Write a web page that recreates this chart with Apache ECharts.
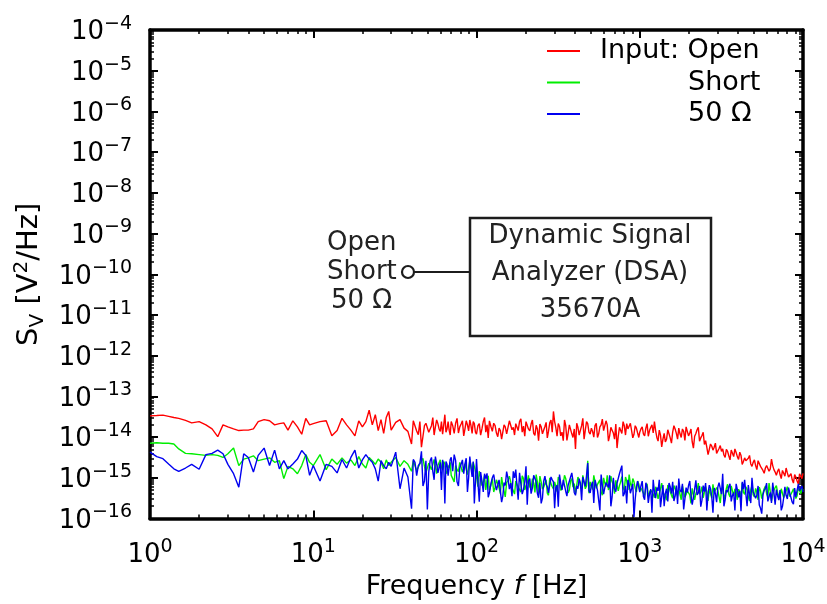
<!DOCTYPE html>
<html><head><meta charset="utf-8">
<script src="https://cdn.jsdelivr.net/npm/echarts@6/dist/echarts.min.js"></script>
<style>html,body{margin:0;padding:0;background:#fff}#c{width:827px;height:604px}</style>
</head><body><div id="c"></div>
<script>
// ---------------- DATA ----------------
const freqHz = [
  1,1.1,1.2,1.3,1.4,1.5,1.65,1.8,2,2.2,2.4,2.6,2.8,3,3.25,3.5,3.75,4,4.3,4.6,5,5.4,5.8,6.2,6.6,7,7.5,8,8.5,9,9.5,
  10,11,12,13,14,15,16,17,18,19,20,21,22,23,24,25,26,27,28,29,30,32,34,36,38,40,42,44,46,48,50,52,54,56,58,60,62,64,66,68,70,73,76,79,82,85,88,91,94,97,
  100,104,108,112,116,120,125,130,135,140,145,150,156,162,168,174,180,187,194,201,208,216,224,232,240,249,258,267,276,286,296,306,317,328,340,352,364,377,390,404,418,433,448,464,480,497,514,532,551,570,590,611,632,654,677,701,726,751,777,804,832,861,891,922,954,987,
  1000,1035,1071,1109,1148,1188,1230,1273,1317,1363,1411,1460,1511,1564,1619,1676,1734,1795,1858,1923,1990,2060,2132,2207,2284,2364,2447,2532,2621,2713,2808,2906,3008,3113,3222,3335,3451,3572,3697,3827,3961,4099,4243,4391,4545,4704,4869,5039,5216,5398,5587,5783,5985,6195,6411,6636,6868,7109,7357,7615,7881,8157,8443,8738,9044,9361,9689,10000
];
// log10 of S_V [V^2/Hz]
const openLog10 = [
  -13.48,-13.47,-13.46,-13.49,-13.52,-13.54,-13.59,-13.65,-13.62,-13.70,-13.80,-13.99,-13.70,-13.75,-13.80,-13.84,-13.83,-13.83,-13.80,-13.62,-13.57,-13.60,-13.70,-13.67,-13.65,-13.83,-13.60,-13.75,-13.93,-13.54,-13.70,
  -13.67,-13.62,-13.60,-13.97,-13.84,-13.54,-13.70,-13.83,-13.97,-13.60,-13.75,-13.62,-13.34,-13.70,-13.45,-13.84,-13.57,-13.91,-13.52,-13.37,-13.83,-13.64,-13.57,-13.78,-13.86,-14.17,-13.64,-13.94,-14.25,-13.72,-13.70,-13.91,-13.52,-13.75,-13.67,-13.86,-13.93,-13.45,-13.80,-13.83,-13.62,-13.91,-13.54,-13.75,-13.60,-13.80,-13.70,-13.58,-13.91,-13.67,
  -13.93,-13.67,-13.80,-13.52,-13.70,-13.60,-13.86,-13.72,-13.99,-13.84,-14.02,-13.75,-13.88,-13.58,-13.76,-13.67,-13.84,-13.55,-13.73,-13.62,-13.80,-13.68,-13.91,-13.71,-14.09,-13.75,-13.93,-13.64,-13.86,-13.58,-13.37,-13.76,-13.67,-13.97,-14.09,-13.72,-13.91,-13.68,-14.01,-14.29,-13.76,-13.91,-13.54,-13.83,-13.67,-13.93,-13.86,-13.72,-14.01,-13.75,-13.56,-13.84,-13.70,-13.97,-13.83,-14.05,-14.27,-13.76,-13.91,-13.72,-13.67,-13.84,-13.70,-13.93,-13.78,-14.01,
  -13.88,-13.75,-13.97,-13.67,-13.84,-13.70,-13.62,-14.01,-13.83,-14.24,-13.91,-14.05,-13.86,-14.15,-13.72,-13.91,-13.78,-14.01,-13.86,-13.75,-13.97,-13.80,-14.27,-13.91,-13.76,-14.02,-13.88,-14.09,-14.43,-14.17,-14.32,-14.15,-14.37,-14.21,-14.29,-14.50,-14.35,-14.56,-14.40,-14.29,-14.48,-14.37,-14.67,-14.51,-14.62,-14.45,-14.72,-14.56,-14.80,-14.62,-14.74,-14.89,-14.70,-14.84,-14.54,-14.80,-14.94,-14.78,-15.02,-14.89,-14.76,-14.98,-14.90,-15.13,-14.98,-15.15,-14.94,-14.89
];
const shortLog10 = [
  -14.15,-14.14,-14.15,-14.15,-14.17,-14.29,-14.40,-14.41,-14.43,-14.45,-14.43,-14.45,-14.50,-14.41,-14.27,-14.70,-14.54,-14.51,-14.46,-14.58,-14.54,-14.51,-14.62,-14.58,-15.02,-14.72,-14.78,-14.90,-14.70,-14.43,-14.62,
  -14.70,-14.43,-14.80,-14.54,-14.67,-14.51,-14.64,-14.56,-14.70,-14.48,-14.66,-14.76,-14.50,-14.58,-14.67,-14.54,-14.62,-14.78,-14.56,-14.70,-14.62,-14.50,-14.72,-14.58,-14.67,-14.84,-14.62,-14.78,-14.58,-14.72,-14.86,-14.66,-14.76,-14.58,-14.70,-14.56,-14.80,-14.66,-14.90,-14.76,-14.94,-15.10,-14.80,-14.62,-14.86,-14.66,-14.92,-14.58,-14.88,-14.72,
  -14.98,-14.84,-15.19,-14.94,-15.08,-15.31,-15.02,-15.23,-15.08,-15.39,-15.19,-15.47,-15.06,-14.97,-15.27,-15.08,-15.23,-15.35,-15.02,-15.19,-14.94,-15.27,-15.13,-14.92,-15.39,-15.10,-15.23,-15.05,-15.43,-15.15,-15.27,-15.08,-14.98,-15.31,-15.15,-15.02,-15.37,-15.08,-15.23,-15.39,-14.98,-15.19,-14.94,-15.27,-14.58,-15.10,-15.29,-14.94,-15.16,-15.05,-15.43,-15.13,-14.94,-15.24,-15.10,-15.39,-15.02,-15.19,-14.97,-15.31,-15.08,-14.92,-15.23,-15.10,-15.35,-15.15,
  -15.31,-15.21,-15.43,-15.15,-15.37,-15.27,-15.49,-15.19,-15.39,-15.13,-15.35,-15.55,-15.24,-15.43,-15.19,-15.37,-15.27,-15.54,-15.16,-15.41,-15.31,-15.63,-15.23,-15.39,-15.13,-15.35,-15.49,-15.21,-15.57,-15.27,-15.16,-15.39,-15.31,-15.62,-15.23,-15.43,-15.16,-15.47,-15.32,-15.27,-15.54,-15.35,-15.13,-15.41,-15.29,-15.57,-15.19,-15.47,-15.35,-15.23,-15.51,-15.27,-15.39,-15.13,-15.57,-15.31,-15.19,-15.45,-15.27,-15.49,-15.32,-15.21,-15.43,-15.27,-15.51,-15.23,-15.39,-15.31
];
const ohm50Log10 = [
  -14.37,-14.48,-14.53,-14.66,-14.78,-14.84,-14.76,-14.67,-14.79,-14.43,-14.40,-14.32,-14.41,-14.67,-14.90,-15.23,-14.41,-14.50,-14.86,-14.45,-14.27,-14.70,-14.32,-14.78,-14.58,-14.78,-14.66,-14.54,-14.33,-14.45,-14.94,
  -14.70,-15.08,-14.67,-14.72,-14.88,-14.55,-14.76,-14.50,-14.32,-14.76,-14.56,-14.43,-14.54,-14.62,-14.78,-15.08,-14.58,-14.70,-14.78,-14.62,-14.72,-14.37,-15.27,-14.76,-14.98,-15.76,-14.62,-14.70,-14.35,-15.08,-15.78,-14.58,-14.84,-14.48,-14.88,-14.62,-14.56,-15.63,-14.67,-14.94,-14.50,-14.43,-15.10,-14.76,-14.56,-14.66,-15.35,-14.48,-14.98,-15.63,
  -14.54,-15.59,-15.08,-14.90,-14.89,-15.37,-15.00,-15.15,-15.27,-15.08,-15.45,-15.19,-15.02,-15.13,-14.84,-14.80,-15.54,-15.15,-15.29,-14.72,-15.08,-15.39,-14.94,-15.10,-15.49,-15.63,-15.08,-15.16,-15.37,-14.98,-15.10,-15.24,-15.71,-15.13,-15.05,-15.33,-15.19,-14.98,-15.08,-15.43,-15.27,-15.13,-14.98,-15.21,-14.64,-15.37,-15.10,-15.05,-15.31,-15.80,-15.19,-15.24,-15.08,-14.94,-15.47,-15.27,-15.13,-14.90,-14.70,-15.39,-15.63,-15.16,-15.27,-15.96,-15.23,-15.05,
  -15.35,-15.08,-15.54,-15.23,-15.39,-15.86,-15.35,-15.24,-15.05,-15.47,-15.70,-15.27,-15.13,-15.39,-15.57,-15.19,-15.02,-15.35,-15.78,-15.24,-15.19,-15.43,-15.49,-15.06,-15.37,-15.71,-15.19,-15.13,-15.39,-15.27,-15.86,-15.39,-15.23,-15.08,-14.90,-15.54,-15.35,-15.15,-15.43,-15.80,-15.29,-15.32,-15.10,-15.05,-15.70,-15.41,-15.00,-15.31,-15.43,-15.67,-15.88,-15.31,-15.13,-15.47,-15.62,-15.37,-15.29,-15.55,-15.80,-15.49,-15.43,-15.24,-15.37,-15.65,-15.47,-15.15,-15.29,-15.35
];
// extra samples in the dense (noisy) part of the spectrum, 40 Hz - 10 kHz
const freqMidHz = [
  41,43,45,47,49,51,53,55,57,59,61,63,65,67,69,71.5,74.5,77.5,80.5,83.5,86.5,89.5,92.5,95.5,98.5,
  102,106,110,114,118,122.5,127.5,132.5,137.5,142.5,147.5,153,159,165,171,177,183.5,190.5,197.5,204.5,212,220,228,236,244.5,253.5,262.5,271.5,281,291,301,311.5,322.5,334,346,358,370.5,383.5,397,411,425.5,440.5,456,472,488.5,505.5,523,541.5,560.5,580,600.5,621.5,643,665.5,689,713.5,738.5,764,790.5,818,846.5,876,906.5,938,970.5,
  1017,1053,1090,1128,1168,1209,1251,1295,1340,1387,1435,1485,1537,1591,1647,1705,1764,1826,1890,1956,2025,2096,2169,2245,2324,2405,2489,2576,2667,2760,2857,2957,3060,3167,3278,3393,3511,3634,3762,3894,4030,4171,4317,4468,4624,4786,4954,5127,5307,5492,5685,5884,6090,6303,6523,6752,6988,7233,7486,7748,8019,8300,8590,8891,9202,9525,9844
];
const openMidLog10 = [
  -13.60,-13.85,-13.62,-13.98,-13.66,-13.88,-13.72,-13.95,-13.58,-13.80,-13.62,-13.70,-13.88,-13.62,-13.95,-13.72,-13.66,-13.90,-13.68,-13.97,-13.60,-13.85,-13.72,-13.62,-13.88,
  -13.72,-13.95,-13.62,-13.88,-14.02,-13.74,-13.66,-13.90,-13.78,-14.05,-13.70,-13.92,-13.60,-13.82,-13.95,-13.70,-13.62,-13.88,-13.98,-13.66,-13.85,-13.58,-13.96,-13.80,-13.68,-13.92,-13.74,-14.02,-13.65,-13.88,-13.62,-13.98,-13.74,-13.88,-13.58,-14.08,-13.70,-13.92,-13.80,-13.66,-13.95,-13.72,-14.05,-13.62,-13.88,-13.78,-14.00,-13.66,-13.92,-13.70,-13.84,-13.60,-14.10,-13.76,-13.90,-13.68,-13.98,-13.74,-13.62,-13.95,-13.80,-13.66,-14.02,-13.72,-13.90,
  -13.80,-13.92,-13.78,-13.98,-13.76,-13.90,-13.84,-14.10,-13.95,-14.05,-14.12,-13.82,-14.02,-13.88,-13.80,-14.05,-13.92,-13.80,-14.08,-13.86,-13.90,-14.12,-13.98,-13.82,-14.10,-13.96,-14.18,-14.25,-14.30,-14.22,-14.25,-14.40,-14.28,-14.35,-14.44,-14.30,-14.46,-14.32,-14.48,-14.38,-14.55,-14.45,-14.60,-14.58,-14.52,-14.66,-14.62,-14.70,-14.58,-14.72,-14.82,-14.76,-14.68,-14.78,-14.70,-14.86,-14.84,-14.92,-14.82,-14.96,-14.88,-14.95,-15.05,-14.92,-15.08,-14.90,-15.02
];
const shortMidLog10 = [
  -14.58,-14.82,-14.66,-14.52,-14.88,-14.64,-14.80,-14.55,-14.90,-14.68,-14.74,-14.60,-14.84,-14.70,-14.62,-14.98,-14.70,-14.85,-14.60,-14.78,-14.64,-14.88,-14.70,-14.62,-14.84,
  -15.22,-14.98,-15.10,-15.30,-14.95,-15.18,-15.35,-15.05,-15.25,-14.98,-15.32,-15.12,-14.96,-15.24,-15.40,-15.06,-15.20,-14.95,-15.30,-15.12,-15.22,-15.02,-15.36,-15.10,-14.96,-15.28,-15.14,-15.38,-15.00,-15.22,-15.10,-15.34,-15.04,-15.25,-14.94,-15.18,-15.30,-15.02,-15.14,-15.36,-15.06,-15.28,-14.98,-15.20,-15.38,-15.08,-14.94,-15.26,-15.12,-15.34,-15.00,-15.22,-15.30,-14.96,-15.18,-15.06,-15.32,-15.10,-15.24,-14.98,-15.30,-15.14,-15.02,-15.26,-15.08,
  -15.25,-15.38,-15.20,-15.46,-15.30,-15.40,-15.22,-15.52,-15.28,-15.36,-15.45,-15.18,-15.34,-15.50,-15.26,-15.44,-15.30,-15.20,-15.48,-15.32,-15.42,-15.26,-15.54,-15.30,-15.40,-15.22,-15.46,-15.34,-15.28,-15.50,-15.36,-15.24,-15.46,-15.30,-15.52,-15.26,-15.40,-15.20,-15.44,-15.34,-15.28,-15.50,-15.36,-15.22,-15.46,-15.30,-15.42,-15.26,-15.54,-15.32,-15.38,-15.20,-15.48,-15.34,-15.42,-15.24,-15.36,-15.50,-15.30,-15.40,-15.22,-15.46,-15.34,-15.28,-15.44,-15.32,-15.26
];
const ohm50MidLog10 = [
  -14.55,-14.95,-14.64,-15.20,-14.58,-14.86,-14.50,-15.05,-14.66,-14.92,-15.30,-14.72,-14.60,-14.95,-14.55,-14.84,-14.58,-15.20,-14.66,-14.90,-14.52,-15.00,-14.75,-14.60,-15.10,
  -15.10,-14.86,-15.35,-15.02,-15.48,-15.15,-14.92,-15.30,-15.05,-15.60,-15.12,-14.85,-15.28,-15.45,-15.00,-15.20,-14.88,-15.40,-15.10,-15.66,-15.02,-15.25,-14.90,-15.38,-15.12,-15.50,-14.96,-15.22,-15.34,-15.05,-15.75,-15.18,-14.92,-15.30,-15.08,-15.45,-15.15,-14.88,-15.36,-15.20,-15.02,-15.55,-15.10,-14.95,-15.32,-15.18,-15.62,-15.05,-15.28,-14.92,-15.40,-15.12,-15.24,-15.70,-15.00,-15.34,-15.10,-14.90,-15.45,-15.20,-15.05,-15.38,-15.15,-15.52,-15.08,
  -15.20,-15.46,-15.12,-15.62,-15.28,-15.05,-15.50,-15.32,-15.72,-15.18,-15.38,-15.58,-15.22,-15.10,-15.45,-15.64,-15.30,-15.15,-15.52,-15.36,-15.08,-15.66,-15.28,-15.42,-15.20,-15.55,-15.34,-15.80,-15.18,-15.46,-15.25,-15.60,-15.12,-15.40,-15.70,-15.30,-15.22,-15.58,-15.36,-15.15,-15.48,-15.82,-15.28,-15.40,-15.18,-15.62,-15.34,-15.50,-15.20,-15.75,-15.42,-15.26,-15.58,-15.36,-15.12,-15.66,-15.44,-15.30,-15.70,-15.22,-15.52,-15.38,-15.60,-15.25,-15.45,-15.32,-15.20
];
const seriesNames = ['Input: Open', 'Short', '50 Ω'];
const seriesColors = ['#ff0000', '#00ee00', '#0000f0'];
const xTickExp = [0, 1, 2, 3, 4];
const yTickExp = [-16, -15, -14, -13, -12, -11, -10, -9, -8, -7, -6, -5, -4];
const insetLeftLabels = ['Open', 'Short', '50 Ω'];
const insetBoxLines = ['Dynamic Signal', 'Analyzer (DSA)', '35670A'];

// ---------------- CHART ----------------
const FONT = 'DejaVu Sans';
const chart = echarts.init(document.getElementById('c'), null, {renderer: 'canvas'});

function majors(exps) {
  const v = exps.map(e => Math.pow(10, e));
  v[0] *= 1.000001; v[v.length - 1] *= 0.999999;
  return v;
}
function minors(exps) {
  const out = [];
  for (let i = 0; i < exps.length - 1; i++) for (let k = 2; k <= 9; k++) out.push(k * Math.pow(10, exps[i]));
  return out;
}
const xMajor = majors(xTickExp), xMinor = minors(xTickExp);
const yMajor = majors(yTickExp), yMinor = minors(yTickExp);

const labelRich = {
  b: {fontFamily: FONT, fontSize: 26, lineHeight: 31, verticalAlign: 'bottom', color: '#000'},
  s: {fontFamily: FONT, fontSize: 19, lineHeight: 31, verticalAlign: 'top', color: '#000'}
};
function expLabel(v) {
  const n = Math.round(Math.log10(v));
  return '{b|10}{s|' + (n < 0 ? '\u2212' + (-n) : String(n)) + '}';
}

function mkAxis(kind, pos, major, showLine, showLabel) {
  const isX = kind === 'x';
  const ax = {
    type: 'log', logBase: 10,
    min: isX ? 1 : 1e-16, max: isX ? 1e4 : 1e-4,
    position: pos,
    axisLine: {show: showLine, onZero: false, lineStyle: {color: '#000', width: 3.5}},
    axisTick: {show: true, inside: true, length: major ? 8 : 4,
      lineStyle: {color: '#000', width: major ? 2 : 1.5},
      customValues: major ? (isX ? xMajor : yMajor) : (isX ? xMinor : yMinor)},
    axisLabel: {show: showLabel},
    splitLine: {show: false},
    minorTick: {show: false}, minorSplitLine: {show: false}
  };
  if (showLabel) {
    ax.axisLabel = {show: true, customValues: isX ? xMajor : yMajor, formatter: expLabel,
      margin: isX ? 19 : 18, rich: labelRich, fontFamily: FONT, fontSize: 26, color: '#000'};
  }
  return ax;
}

const xAxes = [mkAxis('x', 'bottom', true, true, true), mkAxis('x', 'bottom', false, false, false),
               mkAxis('x', 'top', true, true, false), mkAxis('x', 'top', false, false, false)];
const yAxes = [mkAxis('y', 'left', true, true, true), mkAxis('y', 'left', false, false, false),
               mkAxis('y', 'right', true, true, false), mkAxis('y', 'right', false, false, false)];

xAxes[0].name = '{n|Frequency }{i|f}{n| [Hz]}';
xAxes[0].nameLocation = 'middle';
xAxes[0].nameGap = 48;
xAxes[0].nameTextStyle = {fontFamily: FONT, fontSize: 27, color: '#000', rich: {
  n: {fontFamily: FONT, fontSize: 27, lineHeight: 32, color: '#000'},
  i: {fontFamily: FONT, fontSize: 27, lineHeight: 32, fontStyle: 'italic', color: '#000'}}};

yAxes[0].name = '{n|S}{sub|V}{n| [V}{sup|2}{n|/Hz]}';
yAxes[0].nameLocation = 'middle';
yAxes[0].nameGap = 100;
yAxes[0].nameRotate = 90;
yAxes[0].nameTextStyle = {fontFamily: FONT, fontSize: 29, color: '#000', rich: {
  n: {fontFamily: FONT, fontSize: 29, lineHeight: 36, verticalAlign: 'middle', color: '#000'},
  sub: {fontFamily: FONT, fontSize: 20, lineHeight: 36, verticalAlign: 'bottom', color: '#000'},
  sup: {fontFamily: FONT, fontSize: 20, lineHeight: 36, verticalAlign: 'top', color: '#000'}}};

function buildPoints(mainVals, midVals) {
  const pts = freqHz.map((f, i) => [f, Math.pow(10, mainVals[i])])
    .concat(freqMidHz.map((f, i) => [f, Math.pow(10, midVals[i])]));
  pts.sort((a, b) => a[0] - b[0]);
  return pts;
}
const mains = [openLog10, shortLog10, ohm50Log10];
const mids = [openMidLog10, shortMidLog10, ohm50MidLog10];
const series = mains.map((arr, si) => ({
  name: seriesNames[si], type: 'line', xAxisIndex: 0, yAxisIndex: 0,
  data: buildPoints(arr, mids[si]),
  showSymbol: false, symbol: 'none', color: seriesColors[si],
  lineStyle: {color: seriesColors[si], width: 1.4}, z: 2 + si, animation: false
}));

const ink = '#1c1c1c';
const graphic = [
  {type: 'rect', shape: {x: 470, y: 218, width: 241, height: 118}, style: {fill: '#fff', stroke: ink, lineWidth: 2.5}, z: 10},
  {type: 'line', shape: {x1: 414, y1: 272, x2: 470, y2: 272}, style: {stroke: ink, lineWidth: 2}, z: 10},
  {type: 'circle', shape: {cx: 408, cy: 272, r: 6}, style: {fill: '#fff', stroke: ink, lineWidth: 2.2}, z: 11}
];
const leftPos = [[327, 243], [327, 272], [331, 301]];
insetLeftLabels.forEach((t, i) => graphic.push({type: 'text', x: leftPos[i][0], y: leftPos[i][1], z: 11,
  style: {text: t, fontFamily: FONT, fontSize: 26, fill: '#222', align: 'left', verticalAlign: 'middle'}}));
const boxY = [236, 273, 310];
insetBoxLines.forEach((t, i) => graphic.push({type: 'text', x: 590, y: boxY[i], z: 11,
  style: {text: t, fontFamily: FONT, fontSize: 26, fill: '#222', align: 'center', verticalAlign: 'middle'}}));

chart.setOption({
  animation: false,
  backgroundColor: '#fff',
  grid: {left: 150, right: 24, top: 30, bottom: 85.5, containLabel: false, outerBoundsMode: 'none'},
  xAxis: xAxes,
  yAxis: yAxes,
  legend: {
    data: seriesNames, orient: 'vertical', left: 547, top: 36, padding: 0, itemGap: 1.5,
    itemWidth: 33, itemHeight: 2, icon: 'rect', selectedMode: false,
    textStyle: {fontFamily: FONT, fontSize: 27, lineHeight: 30, color: '#000',
      rich: {p: {width: 15, fontSize: 27, lineHeight: 30}, q: {width: 103, fontSize: 27, lineHeight: 30}}},
    formatter: n => (n === seriesNames[0] ? '{p| }' : '{q| }') + n
  },
  series: series,
  graphic: graphic
});
</script>
</body></html>
